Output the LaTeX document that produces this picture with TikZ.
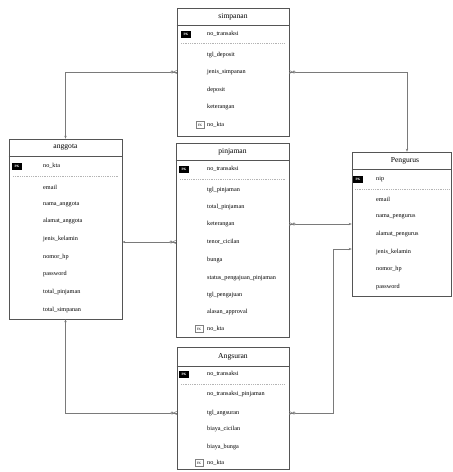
\documentclass[tikz,border=0pt]{standalone}
\usepackage{fontspec}
\setmainfont{Liberation Serif}
\usetikzlibrary{arrows.meta}
\definecolor{boxline}{HTML}{555555}
\definecolor{connline}{HTML}{7A7A7A}
\definecolor{sepline}{HTML}{B4B4B4}
\tikzset{
  tbl/.style={draw=boxline, line width=0.6pt, fill=white, inner sep=0pt},
  ttl/.style={font=\fontsize{7.6}{9}\selectfont, inner sep=0pt},
  fld/.style={font=\fontsize{6.2}{7}\selectfont, anchor=west, inner sep=0pt},
  pkbadge/.style={fill=black, text=white, font=\fontsize{3.4}{4}\selectfont\bfseries,
    minimum width=10.5pt, minimum height=7pt, inner sep=0pt},
  fkbadge/.style={draw=gray, line width=0.4pt, fill=white, font=\fontsize{3.4}{4}\selectfont,
    minimum width=8.5pt, minimum height=7pt, inner sep=0pt},
  sep/.style={draw=sepline, line width=0.5pt, dash pattern=on 1pt off 0.8pt},
  hdr/.style={draw=boxline, line width=0.5pt},
  conn/.style={draw=connline, line width=0.6pt},
  toone/.style={conn, -{Stealth[length=3pt, width=2.4pt]}},
  crow/.pic={
    \draw[conn] (0,-1.6) -- (3.2,0) -- (0,1.6);
    \draw[conn] (0,0) -- (3.2,0);
    \draw[conn, fill=white] (4.8,0) circle (1.2);
  }
}
\begin{document}
\begin{tikzpicture}[x=1pt, y=-1pt]
\useasboundingbox[fill=white] (0,0) rectangle (453,472);

% ---------- simpanan ----------
\node[tbl, minimum width=112pt, minimum height=128pt] (simp) at (233,72) {};
\draw[hdr] (simp.west |- 0,25) -- (simp.east |- 0,25);
\node[ttl] (simpT) at (233,16.5) {simpanan};
\node[pkbadge] (simpPK) at (186,34) {PK};
\node[fld] (s0) at (207,34) {no\_transaksi};
\draw[sep] (181,43) -- (285,43);
\node[fld] (s1) at (207,55) {tgl\_deposit};
\node[fld] (s2) at (207,72) {jenis\_simpanan};
\node[fld] (s3) at (207,90) {deposit};
\node[fld] (s4) at (207,107) {keterangan};
\node[fkbadge] (simpFK) at (200,125) {FK};
\node[fld] (s5) at (207,125) {no\_kta};

% ---------- anggota ----------
\node[tbl, minimum width=113pt, minimum height=180pt] (agt) at (65.5,229) {};
\draw[hdr] (agt.west |- 0,156) -- (agt.east |- 0,156);
\node[ttl] (agtT) at (65.5,147.5) {anggota};
\node[pkbadge] (agtPK) at (17,166) {PK};
\node[fld] (g0) at (43,166) {no\_kta};
\draw[sep] (13,176) -- (118,176);
\node[fld] (g1) at (43,187) {email};
\node[fld] (g2) at (43,204) {nama\_anggota};
\node[fld] (g3) at (43,221) {alamat\_anggota};
\node[fld] (g4) at (43,239) {jenis\_kelamin};
\node[fld] (g5) at (43,257) {nomor\_hp};
\node[fld] (g6) at (43,274) {password};
\node[fld] (g7) at (43,292) {total\_pinjaman};
\node[fld] (g8) at (43,310) {total\_simpanan};

% ---------- pinjaman ----------
\node[tbl, minimum width=113pt, minimum height=194pt] (pin) at (232.5,240) {};
\draw[hdr] (pin.west |- 0,160) -- (pin.east |- 0,160);
\node[ttl] (pinT) at (232.5,151.5) {pinjaman};
\node[pkbadge] (pinPK) at (184,169) {PK};
\node[fld] (p0) at (207,169) {no\_transaksi};
\draw[sep] (180,179) -- (285,179);
\node[fld] (p1) at (207,190) {tgl\_pinjaman};
\node[fld] (p2) at (207,207) {total\_pinjaman};
\node[fld] (p3) at (207,224) {keterangan};
\node[fld] (p4) at (207,242) {tenor\_cicilan};
\node[fld] (p5) at (207,260) {bunga};
\node[fld] (p6) at (207,278) {status\_pengajuan\_pinjaman};
\node[fld] (p7) at (207,295) {tgl\_pengajuan};
\node[fld] (p8) at (207,312) {alasan\_approval};
\node[fkbadge] (pinFK) at (199,329) {FK};
\node[fld] (p9) at (207,329) {no\_kta};

% ---------- Pengurus ----------
\node[tbl, minimum width=99pt, minimum height=144pt] (pgr) at (401.5,224) {};
\draw[hdr] (pgr.west |- 0,169) -- (pgr.east |- 0,169);
\node[ttl] (pgrT) at (405,160.5) {Pengurus};
\node[pkbadge] (pgrPK) at (358,179) {PK};
\node[fld] (r0) at (376,179) {nip};
\draw[sep] (355,189) -- (449,189);
\node[fld] (r1) at (376,199) {email};
\node[fld] (r2) at (376,217) {nama\_pengurus};
\node[fld] (r3) at (376,234) {alamat\_pengurus};
\node[fld] (r4) at (376,252) {jenis\_kelamin};
\node[fld] (r5) at (376,269) {nomor\_hp};
\node[fld] (r6) at (376,287) {password};

% ---------- Angsuran ----------
\node[tbl, minimum width=112pt, minimum height=122pt] (ang) at (233,408) {};
\draw[hdr] (ang.west |- 0,366) -- (ang.east |- 0,366);
\node[ttl] (angT) at (233,356.5) {Angsuran};
\node[pkbadge] (angPK) at (184,374) {PK};
\node[fld] (a0) at (207,374) {no\_transaksi};
\draw[sep] (181,384) -- (285,384);
\node[fld] (a1) at (207,394) {no\_transaksi\_pinjaman};
\node[fld] (a2) at (207,413) {tgl\_angsuran};
\node[fld] (a3) at (207,429) {biaya\_cicilan};
\node[fld] (a4) at (207,447) {biaya\_bunga};
\node[fkbadge] (angFK) at (199,463) {FK};
\node[fld] (a5) at (207,463) {no\_kta};

% ---------- relationships ----------
\coordinate (pgrTop) at ([xshift=5.5pt]pgr.north);
\coordinate (bend) at (333,249);

\draw[toone] (simp.west |- s2) -| (agt.north);
\draw[toone] (simp.east |- s2) -| (pgrTop);
\draw[toone] (pin.west |- p4) -- (agt.east |- p4);
\draw[toone] (pin.east |- p3) -- (pgr.west |- p3);
\draw[toone] (ang.west |- a2) -| (agt.south);
\draw[toone] (ang.east |- a2) -| (bend) -- (pgr.west |- bend);

\pic[rotate=180] at (simp.west |- s2) {crow};
\pic at (simp.east |- s2) {crow};
\pic[rotate=180] at (pin.west |- p4) {crow};
\pic at (pin.east |- p3) {crow};
\pic[rotate=180] at (ang.west |- a2) {crow};
\pic at (ang.east |- a2) {crow};
\end{tikzpicture}
\end{document}
